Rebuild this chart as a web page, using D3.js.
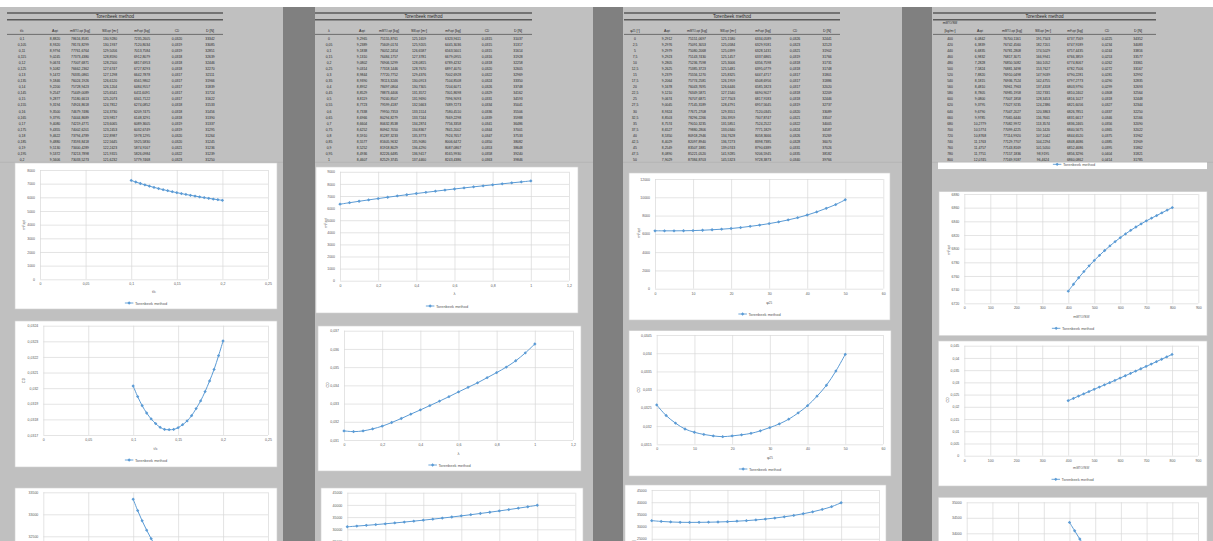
<!DOCTYPE html>
<html><head><meta charset="utf-8">
<script src="https://cdn.jsdelivr.net/npm/d3@7"></script>
<style>html,body{margin:0;padding:0;background:#fff;overflow:hidden}text{font-family:'Liberation Sans',Arial,sans-serif}</style>
</head><body>
<svg id="c" width="1213" height="541"></svg>
<script>
// ---------------- DATA ----------------
const seriesName = "Torenbeek method";
// Panel 1 : thickness ratio t/c
const tc   = [0.1,0.105,0.11,0.115,0.12,0.125,0.13,0.135,0.14,0.145,0.15,0.155,0.16,0.165,0.17,0.175,0.18,0.185,0.19,0.195,0.2];
const A1   = [8.8820,8.9320,8.9794,9.0245,9.0674,9.1082,9.1472,9.1846,9.2200,9.2547,9.2877,9.3194,9.3500,9.3795,9.4080,9.4355,9.4622,9.4880,9.5130,9.5372,9.5606];
const m1   = [78616.8581,78174.8299,77761.6764,77373.4380,77007.6871,76662.2362,76335.0861,76024.1926,75728.9423,75449.0089,75180.6613,74924.8618,74679.7486,74444.8689,74219.4771,74002.6201,73794.4789,73593.8418,73400.4289,73213.7898,73033.5273];
const S1   = [130.9280,130.1937,129.5056,128.8590,128.2500,127.6747,127.1298,126.6120,126.1204,125.6541,125.2073,124.7812,124.3730,123.9817,123.6065,123.2453,122.8987,122.5645,122.2423,121.9315,121.6232];
const mF1  = [7235.2605,7120.8034,7013.7584,6912.8079,6817.6953,6727.8293,6642.7878,6561.9802,6484.9557,6411.6091,6341.7122,6274.0852,6209.7475,6148.3291,6089.3605,6032.6749,5978.1295,5925.5830,5874.9167,5826.0984,5779.7468];
const CD1  = [0.032014,0.031946,0.031888,0.031841,0.031803,0.031773,0.031749,0.031736,0.031734,0.031736,0.031747,0.031766,0.031790,0.031824,0.031869,0.031918,0.031978,0.032046,0.032120,0.032208,0.032302];
const D1   = [33342,33085,32851,32639,32446,32270,32111,31966,31839,31724,31622,31533,31456,31390,31337,31295,31264,31245,31236,31239,31250];
// Panel 2 : taper ratio lambda
const lam  = [0,0.05,0.1,0.15,0.2,0.25,0.3,0.35,0.4,0.45,0.5,0.55,0.6,0.65,0.7,0.75,0.8,0.85,0.9,0.95,1];
const A2   = [9.2965,9.2389,9.1838,9.1310,9.0802,9.0314,8.9844,8.9390,8.8952,8.8529,8.8119,8.7723,8.7338,8.6966,8.6604,8.6252,8.5910,8.5577,8.5252,8.4936,8.4607];
const m2   = [75155.8761,75609.0174,76052.2454,76484.1757,76906.5299,77318.1446,77720.7752,78113.3246,78497.0804,78873.4406,79240.8507,79599.4187,79950.7353,80294.8279,80632.8538,80962.7050,81287.3233,81605.9632,81918.8029,82226.6485,82529.3745];
const S2   = [125.1659,125.9205,126.6587,127.3781,128.0815,128.7670,129.4376,130.0913,130.7305,131.3572,131.9690,132.5663,133.1514,133.7244,134.2874,134.8367,135.3773,135.9080,136.4290,136.9417,137.4460];
const mF2  = [6323.9611,6445.3036,6563.5601,6679.0955,6789.4232,6897.4070,7002.6928,7104.8508,7204.6071,7301.8698,7396.9093,7489.7273,7580.4510,7669.2298,7756.3358,7841.2002,7924.7657,8006.6472,8087.0867,8165.9930,8243.4386];
const CD2  = [0.031500,0.031460,0.031500,0.031610,0.031760,0.031960,0.032180,0.032420,0.032650,0.032890,0.033130,0.033380,0.033640,0.033890,0.034140,0.034420,0.034700,0.035000,0.035350,0.035780,0.036270];
const D2   = [31037,31317,31614,31928,32258,32605,32969,33350,33748,34162,34593,35041,35506,35988,36486,37001,37533,38082,38648,39240,39846];
// Panel 3 : sweep phi25
const phi  = [0,2.5,5,7.5,10,12.5,15,17.5,20,22.5,25,27.5,30,32.5,35,37.5,40,42.5,45,47.5,50];
const A3   = [9.2912,9.2976,9.2979,9.2923,9.2805,9.2625,9.2379,9.2064,9.1678,9.1210,9.0674,9.0045,8.9324,8.8503,8.7574,8.6527,8.5350,8.4029,8.2549,8.0890,7.9029];
const m3   = [75151.0697,75091.3053,75080.2068,75143.7430,75236.7598,75385.3723,75556.1270,75774.2581,76043.7695,76349.5871,76707.6871,77145.3189,77671.2708,78296.2266,79010.3235,79880.2806,80918.2946,82097.8940,83507.1881,85221.0520,87384.8703];
const S3   = [125.1580,125.0584,125.0399,125.1457,125.3006,125.5481,125.8325,126.1959,126.6446,127.1540,127.7503,128.4791,129.3551,130.3959,131.5851,133.0340,134.7628,136.7273,139.0743,141.9285,145.5323];
const mF3  = [6334.0589,6329.9181,6328.1431,6337.6865,6356.7598,6395.0779,6447.4717,6508.6956,6585.1823,6690.9027,6817.9183,6957.5645,7120.0345,7307.8747,7524.2522,7771.1829,8058.3666,8398.7385,8790.6389,9206.5945,9728.3873];
const CD3  = [0.032580,0.032290,0.032080,0.031920,0.031830,0.031770,0.031730,0.031710,0.031730,0.031760,0.031800,0.031870,0.031960,0.032060,0.032190,0.032360,0.032560,0.032820,0.033120,0.033510,0.033970];
const D3   = [32441,32123,31902,31766,31731,31748,31801,31886,32020,32209,32446,32737,33089,33507,34005,34587,35269,36070,37026,38182,39766];
// Panel 4 : wing loading mMTO/SW
const ws   = [400,420,440,460,480,500,520,540,560,580,600,620,640,660,680,700,720,740,760,780,800];
const A4   = [6.0842,6.3839,6.6835,6.9832,7.2828,7.5824,7.8820,8.1815,8.4810,8.7805,9.0800,9.3795,9.6790,9.9785,10.2779,10.5774,10.8768,11.1763,11.4757,11.7751,12.0745];
const m4   = [76700.1161,76742.4560,76781.2808,76817.3071,76850.5082,76881.3498,76910.0498,76936.7524,76961.7963,76985.1958,77007.1858,77027.9235,77047.2027,77065.6440,77082.9972,77099.4225,77114.9920,77129.7707,77143.8169,77157.1836,77169.9187];
const S4   = [191.7503,182.7201,174.5029,166.9941,160.1052,153.7627,147.9039,142.4755,137.4318,132.7331,128.3453,124.2386,120.3863,116.7661,113.3574,110.1420,107.1042,104.2294,101.5050,98.9195,96.4624];
const mF4  = [6737.7569,6747.9189,6757.4435,6766.3859,6774.8067,6782.7506,6790.2281,6797.2773,6803.9790,6810.2402,6816.1027,6821.6056,6826.7851,6831.6617,6836.2465,6840.5675,6844.6520,6848.4686,6852.4686,6856.3296,6860.0862];
const CD4  = [0.02250,0.02344,0.02438,0.02531,0.02624,0.02716,0.02807,0.02898,0.02989,0.03080,0.03177,0.03270,0.03366,0.03462,0.03558,0.03652,0.03748,0.03848,0.03947,0.04043,0.04142];
const D4   = [34352,34083,33816,33577,33361,33167,32992,32835,32693,32564,32448,32344,32250,32166,32090,32022,31962,31909,31862,31821,31785];

const panelData = [
  {x:tc,  A:A1, m:m1, S:S1, mF:mF1, CD:CD1, D:D1},
  {x:lam, A:A2, m:m2, S:S2, mF:mF2, CD:CD2, D:D2},
  {x:phi, A:A3, m:m3, S:S3, mF:mF3, CD:CD3, D:D3},
  {x:ws,  A:A4, m:m4, S:S4, mF:mF4, CD:CD4, D:D4}
];

// ---------------- LAYOUT ----------------
const W = 1213, H = 541;
const svg = d3.select('#c');
const TXT = '#262626', AX = '#595959', GRID = '#d9d9d9', BLUE = '#5B9BD5';
const comma = s => s.replace('.', ',');

svg.append('rect').attr('width', W).attr('height', H).attr('fill', '#c0c0c0');
[[283,315],[593,623],[902,932]].forEach(s =>
  svg.append('rect').attr('x', s[0]).attr('y', 0).attr('width', s[1]-s[0]).attr('height', H).attr('fill', '#808080'));
svg.append('rect').attr('width', W).attr('height', 7).attr('fill', '#ffffff');
[[0,283],[315,593],[623,902],[932,1213]].forEach(s =>
  svg.append('line').attr('x1', s[0]).attr('x2', s[1]).attr('y1', 162.3).attr('y2', 162.3).attr('stroke', '#b2b2b2').attr('stroke-width', 0.8));

function rich(t, parts, fs) {
  parts.forEach(([s, sub]) => {
    t.append('tspan').text(s).attr('font-size', sub ? fs * 0.72 : fs)
      .attr('baseline-shift', sub ? '-28%' : null);
  });
}

const H_A  = [['A',0],['opt',1]];
const H_M  = [['m',0],['MTO,opt',1],[' [kg]',0]];
const H_S  = [['S',0],['W,opt',1],[' [m²]',0]];
const H_MF = [['m',0],['F,opt',1],[' [kg]',0]];
const H_CD = [['C',0],['D',1]];
const H_D  = [['D [N]',0]];

const tables = [
  {x0:7,   x1:223,  cols:[22,55,80,110,142,177,210],        xf:'.3~f', h0:[[['t/c',0]]]},
  {x0:315, x1:532,  cols:[329,362,389,419,453,487,518],     xf:'.2~f', h0:[[['λ',0]]]},
  {x0:624, x1:840,  cols:[635,667,697,728,763,795,827],     xf:'.1~f', h0:[[['φ',0],['25',1],[' [°]',0]]]},
  {x0:933, x1:1156, cols:[950,980,1012,1043,1075,1107,1138], xf:'d',   h0:[[['m',0],['MTO',1],['/S',0],['W',1]],[['[kg/m²]',0]]]}
];

tables.forEach((tb, pi) => {
  const d = panelData[pi];
  const g = svg.append('g');
  g.append('line').attr('x1', tb.x0).attr('x2', tb.x1).attr('y1', 13).attr('y2', 13).attr('stroke', '#5a5a5a').attr('stroke-width', 1.6);
  g.append('line').attr('x1', tb.x0).attr('x2', tb.x1).attr('y1', 19.8).attr('y2', 19.8).attr('stroke', '#5a5a5a').attr('stroke-width', 1.4);
  g.append('text').attr('x', (tb.x0 + tb.x1) / 2).attr('y', 16.5).attr('text-anchor', 'middle')
    .attr('dominant-baseline', 'central').attr('font-size', 4.6).attr('fill', TXT).text('Torenbeek method');
  g.append('line').attr('x1', tb.x0).attr('x2', tb.x1).attr('y1', 34.4).attr('y2', 34.4).attr('stroke', '#4a4a4a').attr('stroke-width', 0.7);
  // headers
  const heads = [null, H_A, H_M, H_S, H_MF, H_CD, H_D];
  heads.forEach((hp, ci) => {
    if (ci === 0) {
      tb.h0.forEach((line, li) => {
        const yy = tb.h0.length === 2 ? (li === 0 ? 23 : 30.6) : 30.6;
        const t = g.append('text').attr('x', tb.cols[0]).attr('y', yy).attr('text-anchor', 'middle')
          .attr('dominant-baseline', 'central').attr('fill', TXT);
        rich(t, line, 3.6);
      });
    } else {
      const t = g.append('text').attr('x', tb.cols[ci]).attr('y', 30.6).attr('text-anchor', 'middle')
        .attr('dominant-baseline', 'central').attr('fill', TXT);
      rich(t, hp, 3.6);
    }
  });
  const f4 = d3.format('.4f'), f0 = d3.format('d'), fx = d3.format(tb.xf);
  d.x.forEach((xv, i) => {
    const yy = 38.7 + i * 6.07;
    const vals = [comma(fx(xv)), comma(f4(d.A[i])), comma(f4(d.m[i])), comma(f4(d.S[i])),
                  comma(f4(d.mF[i])), comma(f4(d.CD[i])), f0(d.D[i])];
    vals.forEach((v, ci) => {
      g.append('text').attr('x', tb.cols[ci]).attr('y', yy).attr('text-anchor', 'middle')
        .attr('dominant-baseline', 'central').attr('font-size', 3.4).attr('fill', TXT).text(v);
    });
  });
});

// ---------------- CHARTS ----------------
const XT = [
  [['t/c',0]],
  [['λ',0]],
  [['φ',0],['25',1]],
  [['m',0],['MTO',1],['/S',0],['W',1]]
];
const YT = {mF: [['m',0],['F,opt',1]], CD: [['C',0],['D',1]], D: [['D [N]',0]]};

const charts = [
  {p:0, v:'mF', box:[15,163,262,146],   pl:40,    pt:170,   pr:268,    pb:279.3, xd:[0,0.25], xs:0.05, yd:[0,8000],        ys:1000,   yt:[23,225],     xty:291,   ly:303},
  {p:0, v:'CD', box:[15,321,262,146],   pl:43.3,  pt:325.7, pr:268,    pb:435,   xd:[0,0.25], xs:0.05, yd:[0.0317,0.0324], ys:0.0001, yt:[22.7,380.7], xty:448,   ly:460},
  {p:0, v:'D',  box:[15,488,262,146],   pl:43.3,  pt:492.3, pr:268,    pb:602.3, xd:[0,0.25], xs:0.05, yd:[31000,33500],   ys:500,    yt:[22,547],     xty:614,   ly:626},
  {p:1, v:'mF', box:[316,167,262,146],  pl:340,   pt:171.8, pr:569,    pb:280.7, xd:[0,1.2],  xs:0.2,  yd:[0,9000],        ys:1000,   yt:[325,223],    xty:293,   ly:306},
  {p:1, v:'CD', box:[318,326,263,145],  pl:344,   pt:330.7, pr:573,    pb:440,   xd:[0,1.2],  xs:0.2,  yd:[0.031,0.037],   ys:0.001,  yt:[326.7,385],  xty:453,   ly:465},
  {p:1, v:'D',  box:[321,488,262,146],  pl:347.3, pt:492.7, pr:575.3,  pb:602.5, xd:[0,1.2],  xs:0.2,  yd:[0,45000],       ys:5000,   yt:[327,547],    xty:614,   ly:626},
  {p:2, v:'mF', box:[629,173,261,147],  pl:655,   pt:179,   pr:883.3,  pb:288.7, xd:[0,60],   xs:10,   yd:[0,12000],       ys:2000,   yt:[637.7,233],  xty:301.7, ly:314},
  {p:2, v:'CD', box:[629,330.7,262,145.3], pl:656.7, pt:335, pr:883,   pb:444.3, xd:[0,60],   xs:10,   yd:[0.0315,0.0345], ys:0.0005, yt:[637.7,390],  xty:456.7, ly:469},
  {p:2, v:'D',  box:[625,485,261,146],  pl:651.7, pt:490,   pr:879,    pb:599.8, xd:[0,60],   xs:10,   yd:[0,45000],       ys:5000,   yt:[633,545],    xty:612,   ly:624},
  {p:3, v:'mF', box:[939,191.7,268,144], pl:964.3, pt:194,  pr:1198.3, pb:303.3, xd:[0,900],  xs:100,  yd:[6720,6880],     ys:20,     yt:[948,250],    xty:316,   ly:328.3},
  {p:3, v:'CD', box:[938.3,341,268.7,145], pl:964.3, pt:345.7, pr:1198, pb:455.7, xd:[0,900], xs:100,  yd:[0,0.045],       ys:0.005,  yt:[946.7,400],  xty:467.3, ly:479.3},
  {p:3, v:'D',  box:[938.3,497.3,268.7,146], pl:966.7, pt:502.3, pr:1198, pb:610.8, xd:[0,900], xs:100, yd:[31500,35000],  ys:500,    yt:[946,556],    xty:623,   ly:635}
];

const tickFmt = v => comma(d3.format('.6~f')(v));
const marker = d3.symbol().type(d3.symbolSquare).size(5.5);

function legend(g, cx, cy) {
  const lg = g.append('g');
  lg.append('line').attr('x1', 0).attr('x2', 8.5).attr('y1', 0).attr('y2', 0).attr('stroke', BLUE).attr('stroke-width', 0.9);
  lg.append('path').attr('d', marker()).attr('transform', 'translate(4.25,0) rotate(45)').attr('fill', BLUE);
  const t = lg.append('text').attr('x', 10).attr('y', 0).attr('dominant-baseline', 'central')
    .attr('font-size', 3.9).attr('fill', AX).text(seriesName);
  const w = 10 + t.node().getComputedTextLength();
  lg.attr('transform', `translate(${cx - w / 2},${cy})`);
}

charts.forEach((c, ci) => {
  const d = panelData[c.p];
  const g = svg.append('g');
  g.append('rect').attr('x', c.box[0]).attr('y', c.box[1]).attr('width', c.box[2]).attr('height', c.box[3])
    .attr('fill', '#fff').attr('stroke', '#d0d0d0').attr('stroke-width', 0.6);
  const x = d3.scaleLinear().domain(c.xd).range([c.pl, c.pr]);
  const y = d3.scaleLinear().domain(c.yd).range([c.pb, c.pt]);
  const xticks = d3.range(c.xd[0], c.xd[1] + c.xs / 2, c.xs);
  const yticks = d3.range(c.yd[0], c.yd[1] + c.ys / 2, c.ys);
  const ya = g.append('g').attr('transform', `translate(${c.pl},0)`)
    .call(d3.axisLeft(y).tickValues(yticks).tickSize(-(c.pr - c.pl)).tickPadding(5).tickFormat(tickFmt));
  const xa = g.append('g').attr('transform', `translate(0,${c.pb})`)
    .call(d3.axisBottom(x).tickValues(xticks).tickSize(-(c.pb - c.pt)).tickPadding(3.6).tickFormat(tickFmt));
  [ya, xa].forEach(a => {
    a.select('.domain').remove();
    a.selectAll('line').attr('stroke', GRID).attr('stroke-width', 0.7);
    a.selectAll('text').attr('fill', AX).attr('font-size', 3.5).attr('font-family', "'Liberation Sans',Arial,sans-serif");
  });
  // series
  const vals = d[c.v];
  const pts = d.x.map((xv, i) => [x(xv), y(vals[i])]);
  g.append('path').attr('d', d3.line().curve(d3.curveCatmullRom.alpha(0.5))(pts))
    .attr('fill', 'none').attr('stroke', BLUE).attr('stroke-width', 1);
  g.selectAll('path.mk').data(pts).join('path').attr('class', 'mk').attr('d', marker())
    .attr('transform', p => `translate(${p[0]},${p[1]}) rotate(45)`).attr('fill', BLUE);
  // titles
  const xt = g.append('text').attr('x', (c.pl + c.pr) / 2).attr('y', c.xty).attr('text-anchor', 'middle')
    .attr('dominant-baseline', 'central').attr('fill', AX);
  rich(xt, XT[c.p], 4);
  const yt = g.append('text').attr('transform', `translate(${c.yt[0]},${c.yt[1]}) rotate(-90)`)
    .attr('text-anchor', 'middle').attr('dominant-baseline', 'central').attr('fill', AX);
  rich(yt, YT[c.v], 4);
  legend(g, c.box[0] + c.box[2] / 2, c.ly);
});

// Panel 4 first chart: only its lower edge with the legend shows below the table
const clip = svg.append('defs').append('clipPath').attr('id', 'p4clip');
clip.append('rect').attr('x', 938).attr('y', 162.5).attr('width', 269).attr('height', 6.8);
const hid = svg.append('g').attr('clip-path', 'url(#p4clip)');
hid.append('rect').attr('x', 938).attr('y', 150).attr('width', 269).attr('height', 19.3).attr('fill', '#fff');
legend(hid, 1074, 164.3);
</script>
</body></html>
